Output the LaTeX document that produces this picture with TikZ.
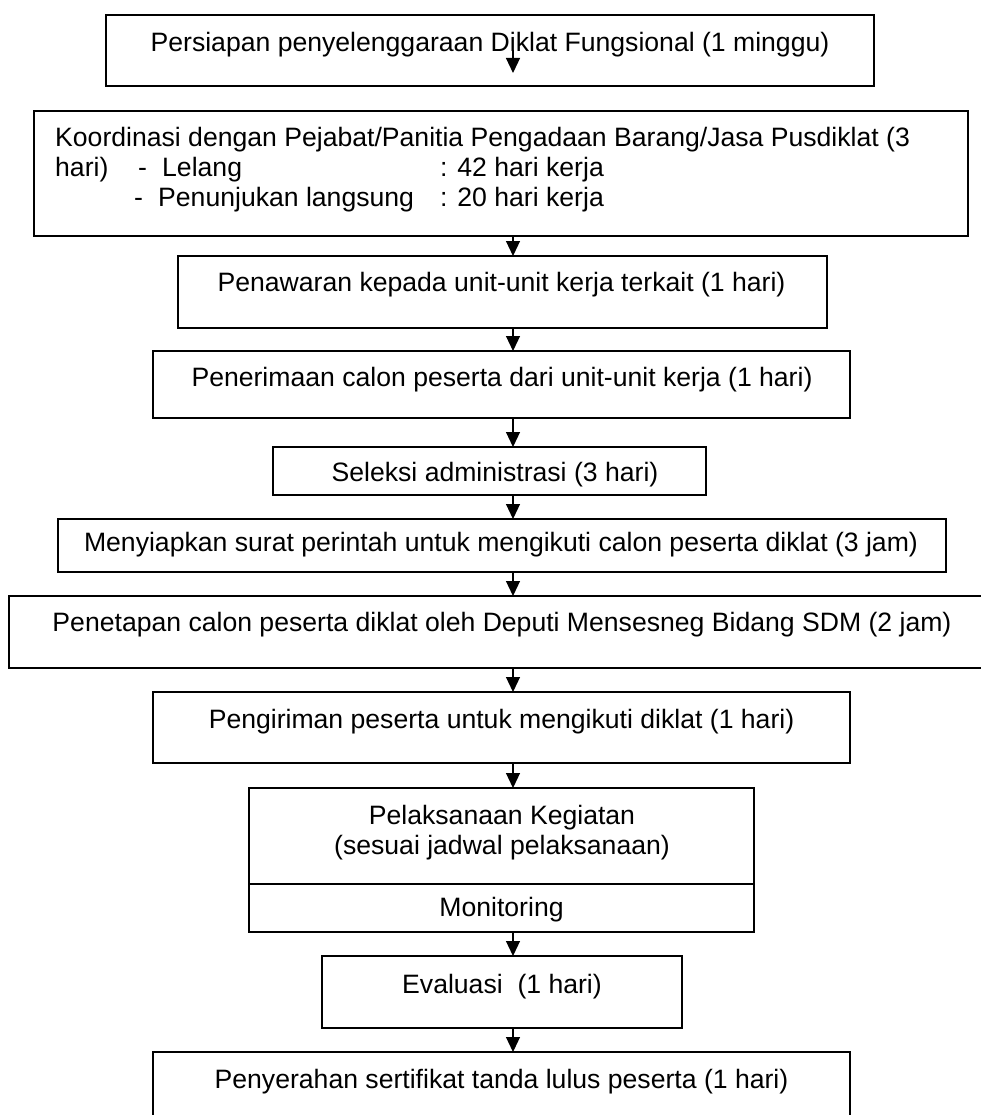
\documentclass[tikz,border=0pt]{standalone}
\usepackage{fontspec}
\setmainfont{Liberation Sans}
\usetikzlibrary{arrows.meta}
\begin{document}
\begin{tikzpicture}[x=1pt,y=-1pt,
  box/.style={draw, line width=1.2pt, inner sep=0pt, outer sep=0pt, rectangle},
  txt/.style={anchor=base, inner sep=0pt, font=\fontsize{26.6}{30}\selectfont},
  txtl/.style={txt, anchor=base west},
  arr/.style={line width=1.2pt, -{Triangle[length=15pt,width=14pt]}}]
\fill[white] (0,0) rectangle (980,1115);
\useasboundingbox (0,0) rectangle (980,1115);
% boxes
\node[box, minimum width=768pt, minimum height=71pt] (b1) at (490,50.5) {};
\node[box, minimum width=934pt, minimum height=125pt] (b2) at (501,173.5) {};
\node[box, minimum width=649pt, minimum height=72pt] (b3) at (502.5,292) {};
\node[box, minimum width=697pt, minimum height=67pt] (b4) at (501.5,384.5) {};
\node[box, minimum width=433pt, minimum height=48pt] (b5) at (489.5,471) {};
\node[box, minimum width=888pt, minimum height=53pt] (b6) at (502,545.5) {};
\node[box, minimum width=986pt, minimum height=72pt] (b7) at (502,632) {};
\node[box, minimum width=697pt, minimum height=71pt] (b8) at (501.5,727.5) {};
\node[box, minimum width=505pt, minimum height=96pt] (b9) at (501.5,836) {};
\node[box, minimum width=505pt, minimum height=48pt] (b9m) at (501.5,908) {};
\node[box, minimum width=360pt, minimum height=72pt] (b10) at (502,992) {};
\node[box, minimum width=697pt, minimum height=74pt] (b11) at (501.5,1089) {};
% texts
\node[txt] (t1) at (490,52) {Persiapan penyelenggaraan Diklat Fungsional (1 minggu)};
\node[txtl] (t2a) at (55,147) {Koordinasi dengan Pejabat/Panitia Pengadaan Barang/Jasa Pusdiklat (3};
\node[txtl] (t2b) at (55,177) {hari)};
\node[txtl] (t2c) at (138,177) {-};
\node[txtl] (t2d) at (162,177) {Lelang};
\node[txtl] (t2e) at (440,177) {: 42 hari kerja};
\node[txtl] (t2f) at (134,207) {-};
\node[txtl] (t2g) at (158,207) {Penunjukan langsung};
\node[txtl] (t2h) at (440,207) {: 20 hari kerja};
\node[txt] (t3) at (501.5,291) {Penawaran kepada unit-unit kerja terkait (1 hari)};
\node[txt] (t4) at (502,386) {Penerimaan calon peserta dari unit-unit kerja (1 hari)};
\node[txt] (t5) at (495,481) {Seleksi administrasi (3 hari)};
\node[txt] (t6) at (501,551) {Menyiapkan surat perintah untuk mengikuti calon peserta diklat (3 jam)};
\node[txt] (t7) at (502,631) {Penetapan calon peserta diklat oleh Deputi Mensesneg Bidang SDM (2 jam)};
\node[txt] (t8) at (501.5,728) {Pengiriman peserta untuk mengikuti diklat (1 hari)};
\node[txt] (t9a) at (502,824) {Pelaksanaan Kegiatan};
\node[txt] (t9b) at (502,854) {(sesuai jadwal pelaksanaan)};
\node[txt] (t9m) at (501.5,916) {Monitoring};
\node[txt] (t10) at (502,993) {Evaluasi\ \ (1 hari)};
\node[txt] (t11) at (501.5,1088) {Penyerahan sertifikat tanda lulus peserta (1 hari)};
% arrows
\coordinate (ax) at (513,0);
\coordinate (a1s) at (513,50);
\coordinate (a1e) at (513,73);
\draw[arr] (a1s) -- (a1e);
\draw[arr] (b2.south -| ax) -- (b3.north -| ax);
\draw[arr] (b3.south -| ax) -- (b4.north -| ax);
\draw[arr] (b4.south -| ax) -- (b5.north -| ax);
\draw[arr] (b5.south -| ax) -- (b6.north -| ax);
\draw[arr] (b6.south -| ax) -- (b7.north -| ax);
\draw[arr] (b7.south -| ax) -- (b8.north -| ax);
\draw[arr] (b8.south -| ax) -- (b9.north -| ax);
\draw[arr] (b9m.south -| ax) -- (b10.north -| ax);
\draw[arr] (b10.south -| ax) -- (b11.north -| ax);
\end{tikzpicture}
\end{document}
